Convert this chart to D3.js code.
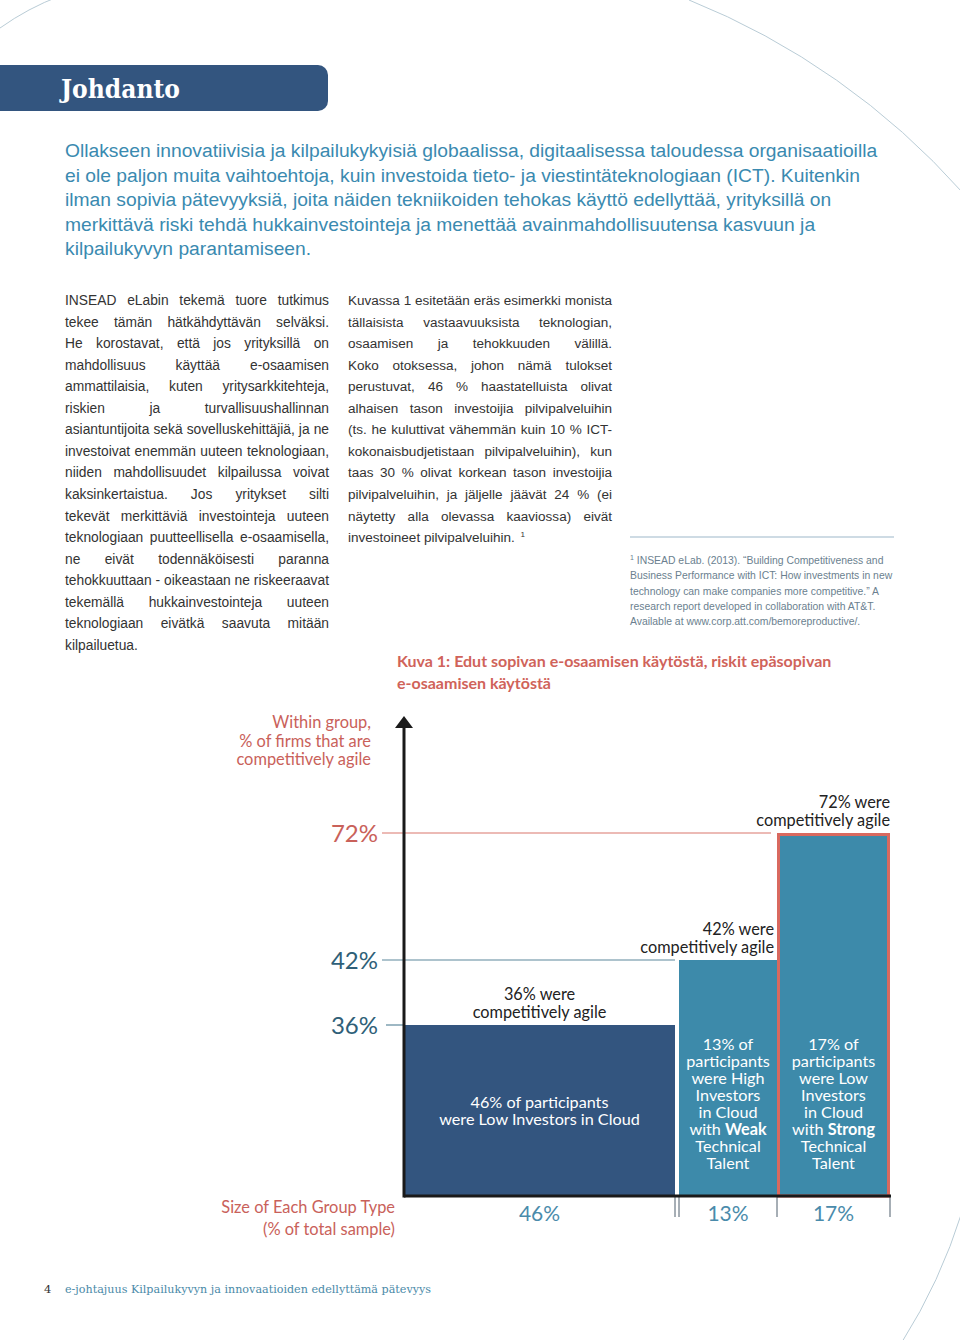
<!DOCTYPE html>
<html><head><meta charset="utf-8">
<script src="https://cdn.jsdelivr.net/npm/d3@7"></script>
<style>
html,body{margin:0;padding:0;background:#fff;}
svg{display:block;}
</style></head>
<body>
<svg id="page" width="960" height="1340"></svg>
<script>
// ---------- DATA ----------
const categories = ["Low Investors in Cloud", "High Investors in Cloud with Weak Technical Talent", "Low Investors in Cloud with Strong Technical Talent"];
const groupSize = [46, 13, 17];          // % of total sample
const agileShare = [36, 42, 72];         // % competitively agile within group
const yTickValues = [36, 42, 72];
const yTickLabels = ["36%", "42%", "72%"];
const sizeLabels = ["46%", "13%", "17%"];
const topLabels = [["36% were", "competitively agile"], ["42% were", "competitively agile"], ["72% were", "competitively agile"]];
const insideLabels = [
  [["46% of participants"], ["were Low Investors in Cloud"]],
  [["13% of"], ["participants"], ["were High"], ["Investors"], ["in Cloud"], ["with ", "Weak"], ["Technical"], ["Talent"]],
  [["17% of"], ["participants"], ["were Low"], ["Investors"], ["in Cloud"], ["with ", "Strong"], ["Technical"], ["Talent"]]
];
const yTitle = ["Within group,", "% of firms that are", "competitively agile"];
const xTitle = ["Size of Each Group Type", "(% of total sample)"];
const caption = ["Kuva 1: Edut sopivan e-osaamisen käytöstä, riskit epäsopivan", "e-osaamisen käytöstä"];

const introLines = [
  "Ollakseen innovatiivisia ja kilpailukykyisiä globaalissa, digitaalisessa taloudessa organisaatioilla",
  "ei ole paljon muita vaihtoehtoja, kuin investoida tieto- ja viestintäteknologiaan (ICT). Kuitenkin",
  "ilman sopivia pätevyyksiä, joita näiden tekniikoiden tehokas käyttö edellyttää, yrityksillä on",
  "merkittävä riski tehdä hukkainvestointeja ja menettää avainmahdollisuutensa kasvuun ja",
  "kilpailukyvyn parantamiseen."
];
const leftCol = [
  "INSEAD eLabin tekemä tuore tutkimus",
  "tekee tämän hätkähdyttävän selväksi.",
  "He korostavat, että jos yrityksillä on",
  "mahdollisuus käyttää e-osaamisen",
  "ammattilaisia, kuten yritysarkkitehteja,",
  "riskien ja turvallisuushallinnan",
  "asiantuntijoita sekä sovelluskehittäjiä, ja ne",
  "investoivat enemmän uuteen teknologiaan,",
  "niiden mahdollisuudet kilpailussa voivat",
  "kaksinkertaistua. Jos yritykset silti",
  "tekevät merkittäviä investointeja uuteen",
  "teknologiaan puutteellisella e-osaamisella,",
  "ne eivät todennäköisesti paranna",
  "tehokkuuttaan - oikeastaan ne riskeeraavat",
  "tekemällä hukkainvestointeja uuteen",
  "teknologiaan eivätkä saavuta mitään",
  "kilpailuetua."
];
const rightCol = [
  "Kuvassa 1 esitetään eräs esimerkki monista",
  "tällaisista vastaavuuksista teknologian,",
  "osaamisen ja tehokkuuden välillä.",
  "Koko otoksessa, johon nämä tulokset",
  "perustuvat, 46 % haastatelluista olivat",
  "alhaisen tason investoijia pilvipalveluihin",
  "(ts. he kuluttivat vähemmän kuin 10 % ICT-",
  "kokonaisbudjetistaan pilvipalveluihin), kun",
  "taas 30 % olivat korkean tason investoijia",
  "pilvipalveluihin, ja jäljelle jäävät 24 % (ei",
  "näytetty alla olevassa kaaviossa) eivät",
  "investoineet pilvipalveluihin."
];
const footnote = [
  "INSEAD eLab. (2013). “Building Competitiveness and",
  "Business Performance with ICT: How investments in new",
  "technology can make companies more competitive.” A",
  "research report developed in collaboration with AT&T.",
  "Available at www.corp.att.com/bemoreproductive/."
];

// ---------- PAGE ----------
const svg = d3.select("#page");
const BODY = "'Liberation Sans', Arial, sans-serif";
const CH = "Lato, 'Open Sans', sans-serif";
const RED = "#c9615a", DARK = "#33557f", BAR2 = "#3d8aaa";

// decorative arcs
const deco = svg.append("g").attr("fill", "none").attr("stroke", "#b9ccd6").attr("stroke-width", 1);
deco.append("path").attr("d", "M0,28 Q28,8 60,-4");
deco.append("path").attr("d", "M689,0 A730,730 0 0 1 962,192");
deco.append("path").attr("d", "M962,1212 Q940,1282 902,1342");

// header
svg.append("rect").attr("x", -20).attr("y", 65).attr("width", 348).attr("height", 46).attr("rx", 10).attr("fill", DARK);
svg.append("text").attr("x", 61).attr("y", 98).attr("fill", "#fff")
  .attr("font-family", "'DejaVu Serif', serif").attr("font-weight", "bold").attr("font-size", 26)
  .attr("textLength", 119).attr("lengthAdjust", "spacingAndGlyphs").text("Johdanto");

// measuring helper
const meas = svg.append("text").attr("x", -999).attr("y", -999);
function width(str, fam, size, weight) {
  meas.attr("font-family", fam).attr("font-size", size).attr("font-weight", weight || "normal").text(str);
  return meas.node().getComputedTextLength();
}

// intro paragraph (fit first line to 813px)
{
  const w = width(introLines[0], BODY, 18);
  const fs = 18 * 813 / w;
  svg.append("g").selectAll("text").data(introLines).join("text")
    .attr("x", 65).attr("y", (d, i) => 157 + i * 24.6)
    .attr("font-family", BODY).attr("font-size", fs).attr("fill", "#3a8ab0").text(d => d);
}

// justified columns
function column(lines, x0, y0, colW, lh, color, lastSup) {
  const maxNat = d3.max(lines, l => width(l, BODY, 13.5));
  const fs = Math.min(14, 13.5 * colW / maxNat);
  const g = svg.append("g").attr("font-family", BODY).attr("font-size", fs).attr("fill", color);
  const spaceW = width("a a", BODY, fs) - width("aa", BODY, fs);
  lines.forEach((line, i) => {
    const words = line.split(" ");
    const ws = words.map(w => width(w, BODY, fs));
    const last = i === lines.length - 1;
    const gap = (!last && words.length > 1) ? (colW - d3.sum(ws)) / (words.length - 1) : spaceW;
    const t = g.append("text").attr("y", y0 + i * lh);
    let cx = x0;
    words.forEach((w, k) => { t.append("tspan").attr("x", cx).text(w); cx += ws[k] + gap; });
    if (last && lastSup) {
      t.append("tspan").attr("x", cx + 2).attr("dy", -5).attr("font-size", fs * 0.6).text("1");
    }
  });
}
column(leftCol, 65, 305, 264, 21.55, "#333");
column(rightCol, 348, 305, 264, 21.55, "#333", true);

// footnote
svg.append("line").attr("x1", 630).attr("x2", 894).attr("y1", 537).attr("y2", 537).attr("stroke", "#9db8c9").attr("stroke-width", 1.2);
{
  const g = svg.append("g").attr("font-family", BODY).attr("font-size", 10.4).attr("fill", "#6b7f8f");
  footnote.forEach((l, i) => {
    const t = g.append("text").attr("x", 630).attr("y", 564 + i * 15.3);
    if (i === 0) { t.append("tspan").attr("font-size", 7).attr("dy", -4).text("1"); t.append("tspan").attr("dy", 4).text(" " + l); }
    else t.text(l);
  });
}

// caption
svg.append("g").selectAll("text").data(caption).join("text")
  .attr("x", 397).attr("y", (d, i) => 667 + i * 22)
  .attr("font-family", CH).attr("font-weight", 700).attr("font-size", 16).attr("fill", "#d0635a").text(d => d);

// ---------- CHART ----------
const cum = [0];
groupSize.forEach((v, i) => cum.push(cum[i] + v));
const x = d3.scaleLinear().domain(cum).range([404, 677, 777, 890]);
const y = d3.scaleLinear().domain([0, ...yTickValues]).range([1196, 1025, 960, 833]);

const chart = svg.append("g").attr("font-family", CH);
const bars = agileShare.map((v, i) => ({
  v, i,
  x0: x(cum[i]) + (i === 1 ? 2 : 0),
  x1: x(cum[i + 1]) - (i === 0 ? 2 : 0)
}));
const fills = [DARK, BAR2, BAR2];

// tick guide lines
const tickColor = ["#5d889c", "#5d889c", "#d9776c"];
yTickValues.forEach((v, k) => {
  const endX = k === 0 ? x(0) : bars[k].x0 - (k === 2 ? 6 : 4);
  chart.append("line").attr("x1", k === 0 ? 386 : 382).attr("x2", endX)
    .attr("y1", y(v)).attr("y2", y(v)).attr("stroke", tickColor[k]).attr("stroke-width", 1.2);
});
// tick labels
chart.selectAll("text.ytick").data(yTickValues).join("text").attr("class", "ytick")
  .attr("x", 378).attr("y", d => y(d) + 9).attr("text-anchor", "end")
  .attr("font-size", 24).attr("fill", (d, k) => k === 2 ? RED : "#2f5f78").text((d, k) => yTickLabels[k]);

// bars
chart.selectAll("rect.bar").data(bars).join("rect").attr("class", "bar")
  .attr("x", d => d.x0).attr("y", d => y(d.v)).attr("width", d => d.x1 - d.x0).attr("height", d => y(0) - y(d.v))
  .attr("fill", (d, i) => fills[i]);
// red outline on best group
const b3 = bars[2];
chart.append("rect").attr("x", b3.x0 + 1.5).attr("y", y(b3.v) + 1.5).attr("width", b3.x1 - b3.x0 - 3).attr("height", y(0) - y(b3.v) - 1.5)
  .attr("fill", "none").attr("stroke", "#d9695f").attr("stroke-width", 3);

// labels above bars
bars.forEach((d, i) => {
  const anchor = i === 0 ? "middle" : "end";
  const lx = i === 0 ? (d.x0 + d.x1) / 2 : d.x1 - (i === 1 ? 3 : 0);
  topLabels[i].forEach((l, k) => {
    chart.append("text").attr("x", lx).attr("y", y(d.v) - 25 + k * 17.5).attr("text-anchor", anchor)
      .attr("font-size", 16.3).attr("fill", "#222").text(l);
  });
});
// labels inside bars
bars.forEach((d, i) => {
  const cx = (d.x0 + d.x1) / 2;
  const lines = insideLabels[i];
  const startY = i === 0 ? 1108 : 1050;
  lines.forEach((parts, k) => {
    const t = chart.append("text").attr("x", cx).attr("y", startY + k * 17).attr("text-anchor", "middle")
      .attr("font-size", 16.2).attr("fill", "#fff");
    parts.forEach((p, j) => t.append("tspan").attr("font-weight", j === 1 ? 700 : 400).text(p));
  });
});

// size labels and separators below baseline
chart.selectAll("text.size").data(bars).join("text").attr("class", "size")
  .attr("x", d => (d.x0 + d.x1) / 2).attr("y", 1221).attr("text-anchor", "middle")
  .attr("font-size", 21).attr("fill", "#4a8bab").text((d, i) => sizeLabels[i]);
[bars[0].x1, bars[1].x0, bars[2].x0, bars[2].x1].forEach(px => {
  chart.append("line").attr("x1", px).attr("x2", px).attr("y1", y(0)).attr("y2", 1217)
    .attr("stroke", "#4e5e6c").attr("stroke-width", 1);
});

// axes
chart.append("line").attr("x1", x(0)).attr("x2", x(cum[3]) + 1).attr("y1", y(0)).attr("y2", y(0)).attr("stroke", "#1a1a1a").attr("stroke-width", 3);
chart.append("line").attr("x1", x(0)).attr("x2", x(0)).attr("y1", 726).attr("y2", y(0) + 1.5).attr("stroke", "#1a1a1a").attr("stroke-width", 3);
chart.append("path").attr("d", `M${x(0)},716 L${x(0) + 9},728 L${x(0) - 9},728 Z`).attr("fill", "#1a1a1a");

// axis titles
chart.selectAll("text.yt").data(yTitle).join("text").attr("class", "yt")
  .attr("x", 371).attr("y", (d, i) => 728 + i * 18.5).attr("text-anchor", "end")
  .attr("font-size", 16.4).attr("fill", RED).text(d => d);
chart.selectAll("text.xt").data(xTitle).join("text").attr("class", "xt")
  .attr("x", 395).attr("y", (d, i) => 1213 + i * 22).attr("text-anchor", "end")
  .attr("font-size", 16.4).attr("fill", RED).text(d => d);

// footer
svg.append("text").attr("x", 44).attr("y", 1293).attr("font-family", "'DejaVu Serif', serif").attr("font-size", 11.5).attr("fill", "#333").text("4");
svg.append("text").attr("x", 65).attr("y", 1293).attr("font-family", "'DejaVu Serif Condensed', 'DejaVu Serif', serif").attr("font-size", 11.5)
  .attr("fill", "#4a8aa8").attr("textLength", 366).attr("lengthAdjust", "spacingAndGlyphs")
  .text("e-johtajuus Kilpailukyvyn ja innovaatioiden edellyttämä pätevyys");

meas.remove();
</script>
</body></html>
